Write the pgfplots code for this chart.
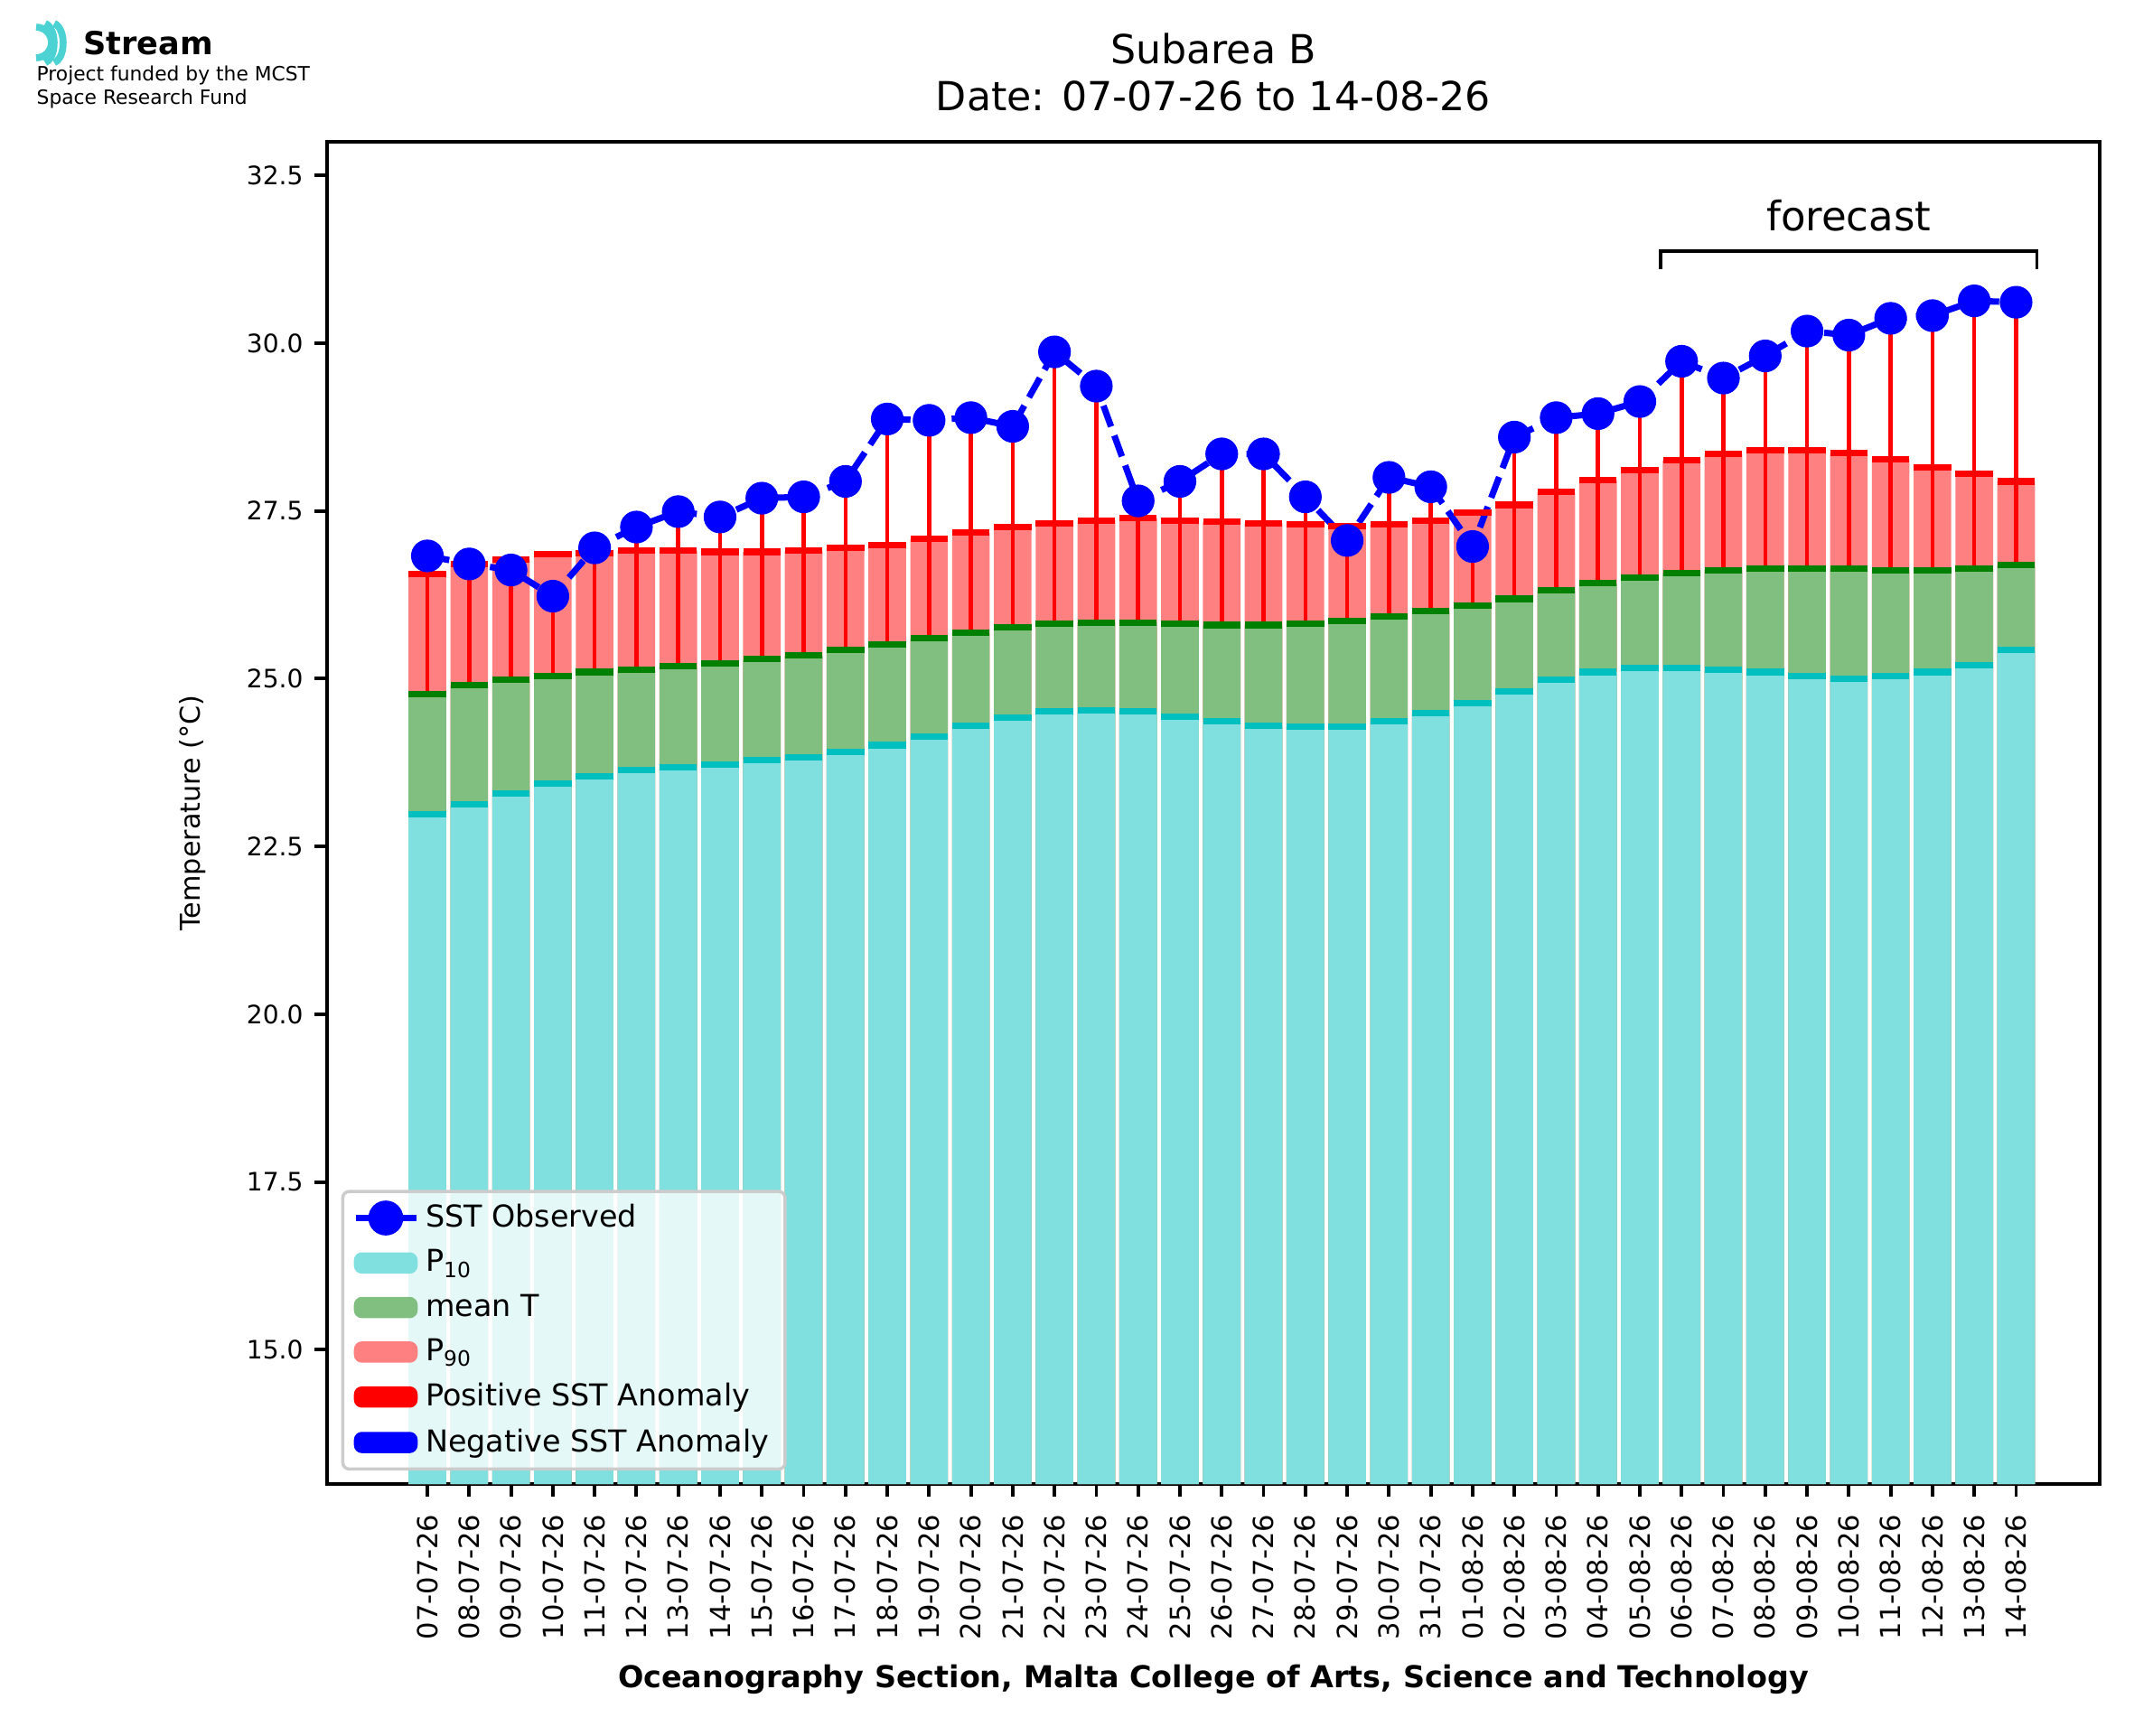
\documentclass[border=0pt]{standalone}
\usepackage{pgfplots}
\usepackage{pgfplotstable}
\pgfplotsset{compat=1.18}
\usepackage{fontspec}
\setmainfont{DejaVu Sans}
\definecolor{cfill}{rgb}{0.5,0.875,0.875}
\definecolor{cedge}{rgb}{0,0.75,0.75}
\definecolor{gfill}{rgb}{0.5,0.75,0.5}
\definecolor{gedge}{rgb}{0,0.5,0}
\definecolor{rfill}{rgb}{1,0.5,0.5}
\pgfplotstableread{
x p10 mean p90 obs
0 22.98 24.77 26.56 26.83
1 23.13 24.90 26.71 26.71
2 23.29 24.98 26.77 26.62
3 23.44 25.04 26.85 26.23
4 23.54 25.10 26.87 26.95
5 23.64 25.14 26.91 27.26
6 23.68 25.19 26.91 27.49
7 23.72 25.23 26.89 27.41
8 23.79 25.29 26.89 27.69
9 23.83 25.35 26.91 27.71
10 23.91 25.43 26.95 27.94
11 24.01 25.51 26.99 28.87
12 24.14 25.60 27.08 28.85
13 24.30 25.68 27.18 28.89
14 24.42 25.76 27.26 28.76
15 24.51 25.82 27.32 29.87
16 24.53 25.84 27.36 29.36
17 24.51 25.84 27.39 27.65
18 24.44 25.82 27.36 27.94
19 24.36 25.80 27.34 28.35
20 24.30 25.80 27.32 28.35
21 24.28 25.82 27.30 27.71
22 24.28 25.86 27.28 27.06
23 24.36 25.93 27.30 28.00
24 24.49 26.01 27.36 27.86
25 24.63 26.09 27.47 26.97
26 24.81 26.19 27.59 28.60
27 24.98 26.32 27.78 28.89
28 25.10 26.42 27.96 28.95
29 25.16 26.50 28.11 29.13
30 25.16 26.58 28.25 29.73
31 25.14 26.62 28.35 29.48
32 25.10 26.64 28.41 29.81
33 25.04 26.64 28.41 30.18
34 25.00 26.64 28.37 30.12
35 25.04 26.62 28.27 30.37
36 25.10 26.62 28.15 30.41
37 25.20 26.64 28.06 30.63
38 25.43 26.69 27.94 30.61
}\data
\begin{document}
\begin{tikzpicture}
\useasboundingbox (0,0) rectangle (23.83,-19.21);
% logo
\begin{scope}[cedge!70, line width=2.2pt]
\draw (0.40,-0.30) arc (90:-90:0.17 and 0.17);
\draw (0.50,-0.26) arc (80:-80:0.12 and 0.22);
\draw (0.60,-0.26) arc (80:-80:0.12 and 0.22);
\end{scope}
\node[anchor=west, font=\bfseries\fontsize{10}{12}\selectfont] at (0.80,-0.48) {Stream};
\node[anchor=north west, align=left, inner sep=0pt, font=\fontsize{6.2}{7.6}\selectfont] at (0.40,-0.72) {Project funded by the MCST\\Space Research Fund};
\begin{axis}[
  at={(3.62cm,-16.43cm)}, anchor=south west,
  scale only axis, width=19.62cm, height=14.86cm,
  xmin=-2.4, xmax=40, ymin=13, ymax=33,
  xtick={0,...,38},
  xticklabels={07-07-26,08-07-26,09-07-26,10-07-26,11-07-26,12-07-26,13-07-26,14-07-26,15-07-26,16-07-26,17-07-26,18-07-26,19-07-26,20-07-26,21-07-26,22-07-26,23-07-26,24-07-26,25-07-26,26-07-26,27-07-26,28-07-26,29-07-26,30-07-26,31-07-26,01-08-26,02-08-26,03-08-26,04-08-26,05-08-26,06-08-26,07-08-26,08-08-26,09-08-26,10-08-26,11-08-26,12-08-26,13-08-26,14-08-26},
  xticklabel style={rotate=90, anchor=east, font=\fontsize{8.7}{10}\selectfont, xshift=-2pt},
  ytick={15,17.5,...,32.5},
  yticklabel style={font=\fontsize{8}{10}\selectfont, /pgf/number format/.cd, fixed, fixed zerofill, precision=1},
  /pgf/number format/assume math mode=true,
  tick align=outside, tick pos=left,
  major tick length=4pt, tick style={line width=1.1pt, black},
  xlabel={\bfseries Oceanography Section, Malta College of Arts, Science and Technology},
  xlabel style={font=\fontsize{9.5}{11}\selectfont, yshift=-1pt},
  ylabel={Temperature (°C)},
  ylabel style={font=\fontsize{8.6}{10}\selectfont, yshift=6pt},
  title={Subarea B\\Date: 07-07-26 to 14-08-26},
  title style={align=center, font=\fontsize{12.6}{15}\selectfont},
  legend cell align=left,
  legend style={at={(0.008,0.01)}, anchor=south west, font=\fontsize{9.5}{11.5}\selectfont,
    fill=white, fill opacity=0.8, text opacity=1, draw=black!20, line width=1pt, rounded corners=2pt, row sep=1.6pt},
  axis line style={line width=0.9pt},
]
\addlegendimage{legend image code/.code={\draw[blue, line width=2pt, opacity=1] (0cm,0cm)--(0.67cm,0cm); \fill[blue, opacity=1] (0.335cm,0cm) circle (5pt);}}
\addlegendentry{SST Observed}
\addlegendimage{legend image code/.code={\fill[cfill, opacity=1] (0cm,-0.1cm) rectangle (0.67cm,0.1cm);}}
\addlegendentry{P\textsubscript{10}}
\addlegendimage{legend image code/.code={\fill[gfill, opacity=1] (0cm,-0.1cm) rectangle (0.67cm,0.1cm);}}
\addlegendentry{mean T}
\addlegendimage{legend image code/.code={\fill[rfill, opacity=1] (0cm,-0.1cm) rectangle (0.67cm,0.1cm);}}
\addlegendentry{P\textsubscript{90}}
\addlegendimage{legend image code/.code={\fill[red, opacity=1] (0cm,-0.1cm) rectangle (0.67cm,0.1cm);}}
\addlegendentry{Positive SST Anomaly}
\addlegendimage{legend image code/.code={\fill[blue, opacity=1] (0cm,-0.1cm) rectangle (0.67cm,0.1cm);}}
\addlegendentry{Negative SST Anomaly}
\addplot[ybar, bar width=0.9, bar shift=0pt, fill=rfill, draw=none, forget plot] table[x=x,y=p90]{\data};
\addplot[ycomb, red, line width=1.3pt, forget plot] table[x=x,y=obs]{\data};
\addplot[ybar, bar width=0.9, bar shift=0pt, fill=gfill, draw=none, forget plot] table[x=x,y=mean]{\data};
\addplot[ybar, bar width=0.9, bar shift=0pt, fill=cfill, draw=none, forget plot] table[x=x,y=p10]{\data};
\addplot[only marks, mark=-, mark size=5.9pt, mark options={red, line width=2pt}, forget plot] table[x=x,y=p90]{\data};
\addplot[only marks, mark=-, mark size=5.9pt, mark options={gedge, line width=2pt}, forget plot] table[x=x,y=mean]{\data};
\addplot[only marks, mark=-, mark size=5.9pt, mark options={cedge, line width=2pt}, forget plot] table[x=x,y=p10]{\data};
\addplot[blue, line width=2pt, dash pattern=on 7pt off 3pt, mark=*, mark size=5pt, mark options={solid, draw=blue, fill=blue, line width=0.3pt}, forget plot] table[x=x,y=obs]{\data};
\draw[black, line width=1pt] (axis cs:29.5,31.1)--(axis cs:29.5,31.37)--(axis cs:38.5,31.37)--(axis cs:38.5,31.1);
\node[font=\fontsize{12.8}{15}\selectfont] at (axis cs:34,31.9) {forecast};
\end{axis}
\end{tikzpicture}
\end{document}
